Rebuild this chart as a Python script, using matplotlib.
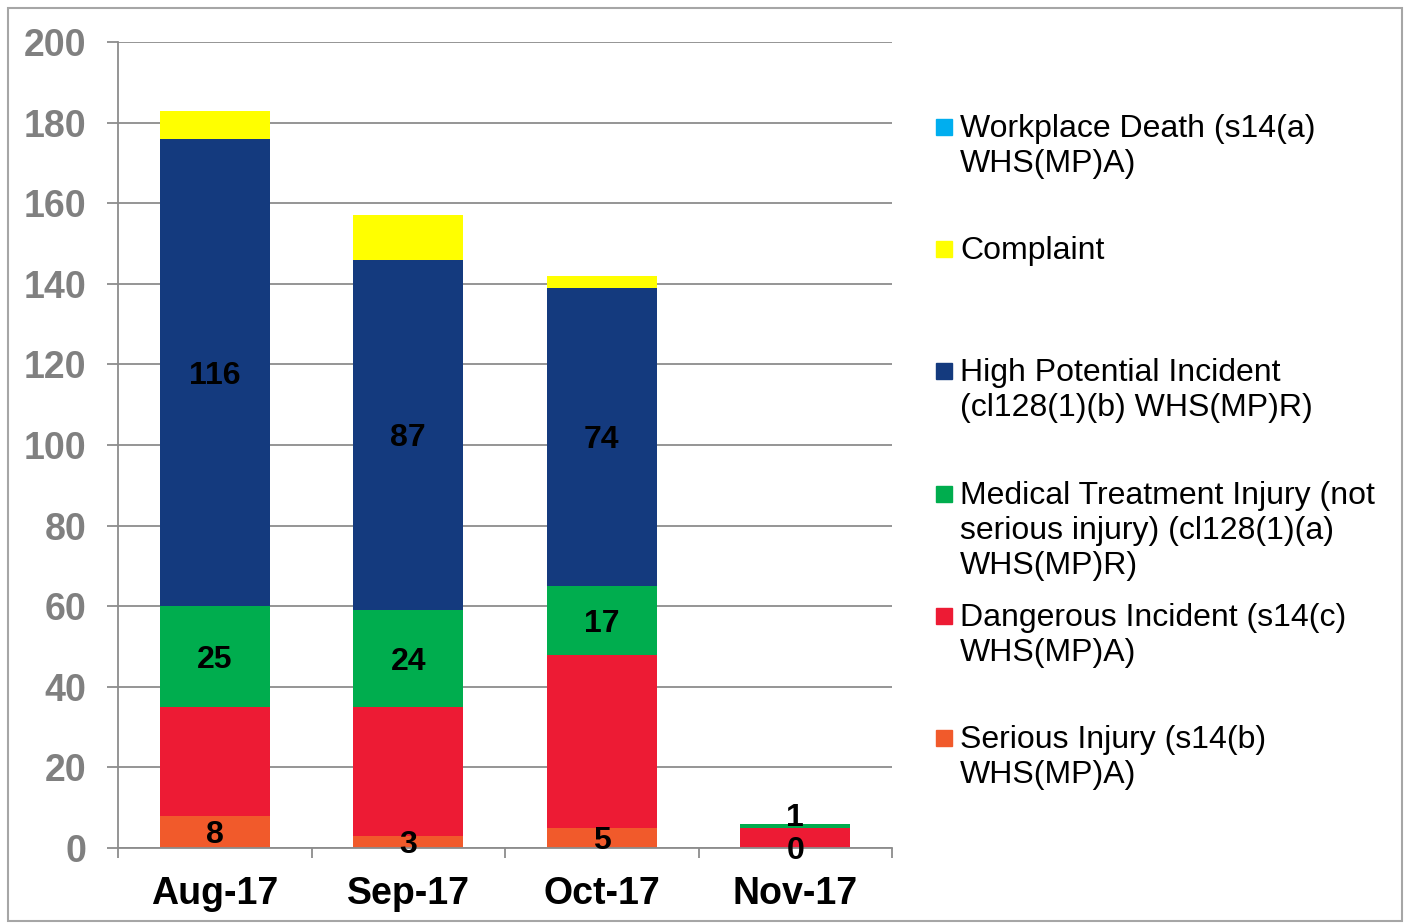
import numpy as np
import matplotlib.pyplot as plt
from matplotlib.patches import Rectangle

# Monthly incident counts by category (stacked bottom-up)
months = ["Aug-17", "Sep-17", "Oct-17", "Nov-17"]
serious_injury = [8, 3, 5, 0]
dangerous_incident = [27, 32, 43, 5]
medical_treatment = [25, 24, 17, 1]
high_potential = [116, 87, 74, 0]
complaint = [7, 11, 3, 0]
workplace_death = [0, 0, 0, 0]

series = [
    ("Serious Injury (s14(b)\nWHS(MP)A)", serious_injury, "#F15A2B", True),
    ("Dangerous Incident (s14(c)\nWHS(MP)A)", dangerous_incident, "#ED1B34", False),
    ("Medical Treatment Injury (not\nserious injury) (cl128(1)(a)\nWHS(MP)R)",
     medical_treatment, "#00AD4E", True),
    ("High Potential Incident\n(cl128(1)(b) WHS(MP)R)", high_potential, "#143A7E", True),
    ("Complaint", complaint, "#FFFF00", False),
    ("Workplace Death (s14(a)\nWHS(MP)A)", workplace_death, "#00AEEF", False),
]

plt.rcParams["font.family"] = ["Liberation Sans", "DejaVu Sans"]
grey = "#8C8C8C"

fig = plt.figure(figsize=(14.06, 9.24), dpi=100)
W, H = 1406, 924
ax = fig.add_axes([118 / W, 1 - 848 / H, (892 - 118) / W, (848 - 42) / H])

x = np.arange(len(months))
bottom = np.zeros(len(months))
for name, vals, color, show in series:
    vals = np.array(vals, dtype=float)
    ax.bar(x, vals, 0.57, bottom=bottom, color=color, zorder=2)
    if show:
        for xi, b, v in zip(x, bottom, vals):
            if name.startswith("High") and v == 0:
                continue
            if v == 0 and xi != 3:
                continue
            # thin segments with a label get nudged up like Excel does
            dy = 5.5 if (0 < v < 2) else -2.5
            ax.annotate(f"{int(v)}", (xi, b + v / 2), xytext=(0, dy),
                        textcoords="offset points", ha="center", va="center",
                        fontsize=23, fontweight="bold", color="black", zorder=3)
    bottom += vals

ax.set_xlim(-0.5, 3.5)
ax.set_ylim(0, 200)
ax.set_yticks(range(0, 201, 20))
ax.yaxis.grid(True, color=grey, linewidth=1.3, zorder=0)
ax.set_axisbelow(True)
for s in ["top", "right"]:
    ax.spines[s].set_visible(False)
for s in ["left", "bottom"]:
    ax.spines[s].set_color(grey)
    ax.spines[s].set_linewidth(1.3)

ax.tick_params(axis="y", direction="out", length=8, width=1.3, color=grey,
               pad=15, labelsize=27, labelcolor="#808080")
for lbl in ax.get_yticklabels():
    lbl.set_fontweight("bold")

ax.set_xticks(x)
ax.set_xticklabels(months, fontsize=27, fontweight="bold")
ax.tick_params(axis="x", which="major", length=0, pad=20)
ax.set_xticks(np.arange(-0.5, 4, 1), minor=True)
ax.tick_params(axis="x", which="minor", direction="out", length=7, width=1.3,
               color=grey)

# legend on the right, top entry first
legend_y = [127, 249, 371, 494, 616, 738]
for (name, vals, color, show), yy in zip(series[::-1], legend_y):
    fig.patches.append(Rectangle((936 / W, 1 - (yy + 8) / H), 16 / W, 16 / H,
                                 transform=fig.transFigure, color=color))
    fig.text(960 / W, 1 - (yy - 13) / H, name, fontsize=23, va="top", ha="left",
             linespacing=1.22)

# outer frame
fig.patches.append(Rectangle((8 / W, 1 - 921 / H), 1394 / W, 913 / H,
                             transform=fig.transFigure, fill=False,
                             edgecolor="#A6A6A6", linewidth=1.5))

fig.savefig("out.png", dpi=100)
